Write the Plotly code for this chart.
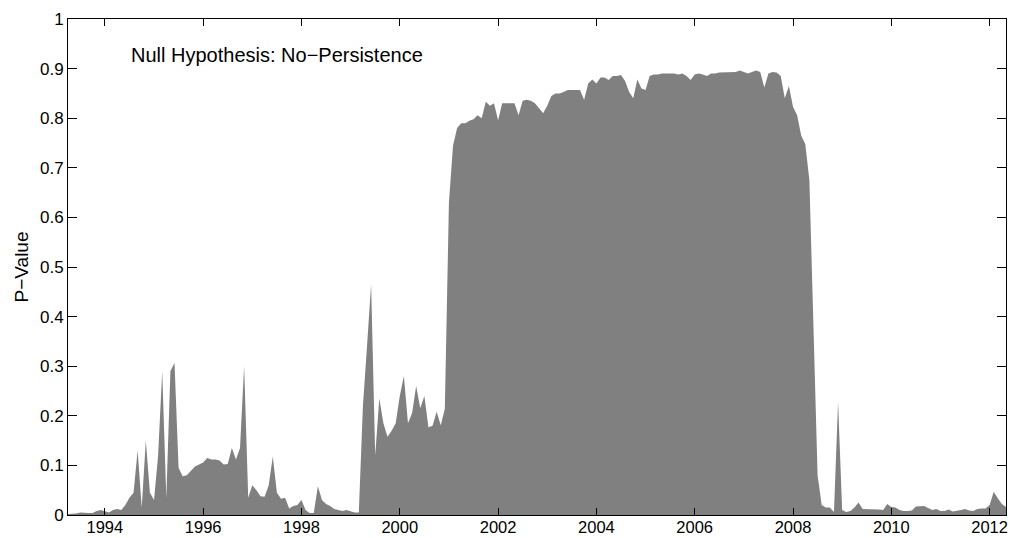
import plotly.graph_objects as go

# Monthly p-values, April 1993 .. May 2012
p_value = [
    0.002, 0.002, 0.003, 0.005, 0.004, 0.004, 0.004, 0.008, 0.010, 0.008,
    0.005, 0.010, 0.012, 0.010, 0.020, 0.035, 0.045, 0.130, 0.015, 0.150,
    0.045, 0.030, 0.120, 0.290, 0.035, 0.290, 0.307, 0.095, 0.078, 0.080,
    0.090, 0.098, 0.102, 0.106, 0.115, 0.112, 0.112, 0.110, 0.102, 0.103,
    0.135, 0.112, 0.135, 0.300, 0.035, 0.060, 0.050, 0.038, 0.037, 0.060,
    0.118, 0.045, 0.033, 0.035, 0.013, 0.018, 0.020, 0.030, 0.010, 0.004,
    0.004, 0.058, 0.030, 0.022, 0.018, 0.012, 0.010, 0.008, 0.010, 0.007,
    0.005, 0.005, 0.220, 0.340, 0.465, 0.120, 0.235, 0.185, 0.158, 0.170,
    0.185, 0.240, 0.280, 0.185, 0.205, 0.260, 0.215, 0.240, 0.177, 0.180,
    0.208, 0.181, 0.214, 0.630, 0.745, 0.780, 0.790, 0.790, 0.795, 0.798,
    0.806, 0.800, 0.833, 0.825, 0.830, 0.796, 0.830, 0.830, 0.830, 0.830,
    0.806, 0.835, 0.837, 0.835, 0.830, 0.820, 0.810, 0.825, 0.845, 0.850,
    0.850, 0.853, 0.857, 0.857, 0.857, 0.857, 0.837, 0.870, 0.878, 0.870,
    0.882, 0.882, 0.877, 0.885, 0.885, 0.887, 0.875, 0.853, 0.840, 0.878,
    0.860, 0.857, 0.885, 0.888, 0.888, 0.890, 0.890, 0.890, 0.890, 0.888,
    0.890, 0.885, 0.877, 0.888, 0.890, 0.888, 0.885, 0.890, 0.890, 0.892,
    0.892, 0.892, 0.893, 0.893, 0.896, 0.893, 0.890, 0.893, 0.896, 0.893,
    0.862, 0.890, 0.893, 0.892, 0.885, 0.840, 0.865, 0.823, 0.806, 0.765,
    0.748, 0.675, 0.400, 0.080, 0.020, 0.015, 0.015, 0.006, 0.228, 0.010,
    0.006, 0.008, 0.015, 0.025, 0.012, 0.012, 0.012, 0.012, 0.011, 0.010,
    0.022, 0.016, 0.015, 0.010, 0.008, 0.008, 0.009, 0.017, 0.018, 0.018,
    0.014, 0.010, 0.012, 0.008, 0.008, 0.011, 0.007, 0.008, 0.010, 0.012,
    0.009, 0.008, 0.012, 0.013, 0.013, 0.020, 0.047, 0.034, 0.022, 0.016,
]
start_year = 1993
start_month = 4
dates = [start_year + (start_month - 1 + k) / 12 for k in range(len(p_value))]

x_ticks = [1994, 1996, 1998, 2000, 2002, 2004, 2006, 2008, 2010, 2012]
y_ticks = [0, 0.1, 0.2, 0.3, 0.4, 0.5, 0.6, 0.7, 0.8, 0.9, 1]
y_tick_text = ["0", "0.1", "0.2", "0.3", "0.4", "0.5", "0.6", "0.7", "0.8", "0.9", "1"]

FONT = "Liberation Sans, Arial, Helvetica, sans-serif"

fig = go.Figure()
fig.add_trace(go.Scatter(
    x=dates, y=p_value, mode="lines", fill="tozeroy",
    fillcolor="#808080", line=dict(width=0, color="#808080"),
    hoverinfo="x+y", showlegend=False,
))

fig.add_annotation(
    x=1994.50, y=0.928, xref="x", yref="y", xanchor="left", yanchor="middle",
    text="Null Hypothesis: No\u2212Persistence", showarrow=False,
    font=dict(family=FONT, size=20, color="black"),
)

fig.update_layout(
    width=1011, height=538,
    margin=dict(l=68, r=5, t=19, b=23, autoexpand=False),
    paper_bgcolor="white", plot_bgcolor="white",
    font=dict(family=FONT, size=17, color="black"),
    xaxis=dict(
        range=[dates[0], dates[-1]], tickmode="array", tickvals=x_ticks,
        ticktext=[str(t) for t in x_ticks], automargin=False,
        ticks="inside", ticklen=7, tickcolor="black", tickwidth=1,
        showline=True, linecolor="black", linewidth=1, mirror="ticks",
        showgrid=False, zeroline=False, ticklabelstandoff=-3,
        tickfont=dict(family=FONT, size=16.5, color="black"),
    ),
    yaxis=dict(
        range=[0, 1], tickmode="array", tickvals=y_ticks, ticktext=y_tick_text,
        automargin=False,
        ticks="inside", ticklen=9, tickcolor="black", tickwidth=1,
        showline=True, linecolor="black", linewidth=1, mirror="ticks",
        showgrid=False, zeroline=False,
        tickfont=dict(family=FONT, size=17, color="black"),
        title=dict(text="P\u2212Value", standoff=6,
                   font=dict(family=FONT, size=19, color="black")),
    ),
)

fig.write_html(
    "out.html",
    config={"displayModeBar": False},
    post_script="document.body.style.margin='0';document.body.style.overflow='hidden';"
                "document.documentElement.style.overflow='hidden';",
)
